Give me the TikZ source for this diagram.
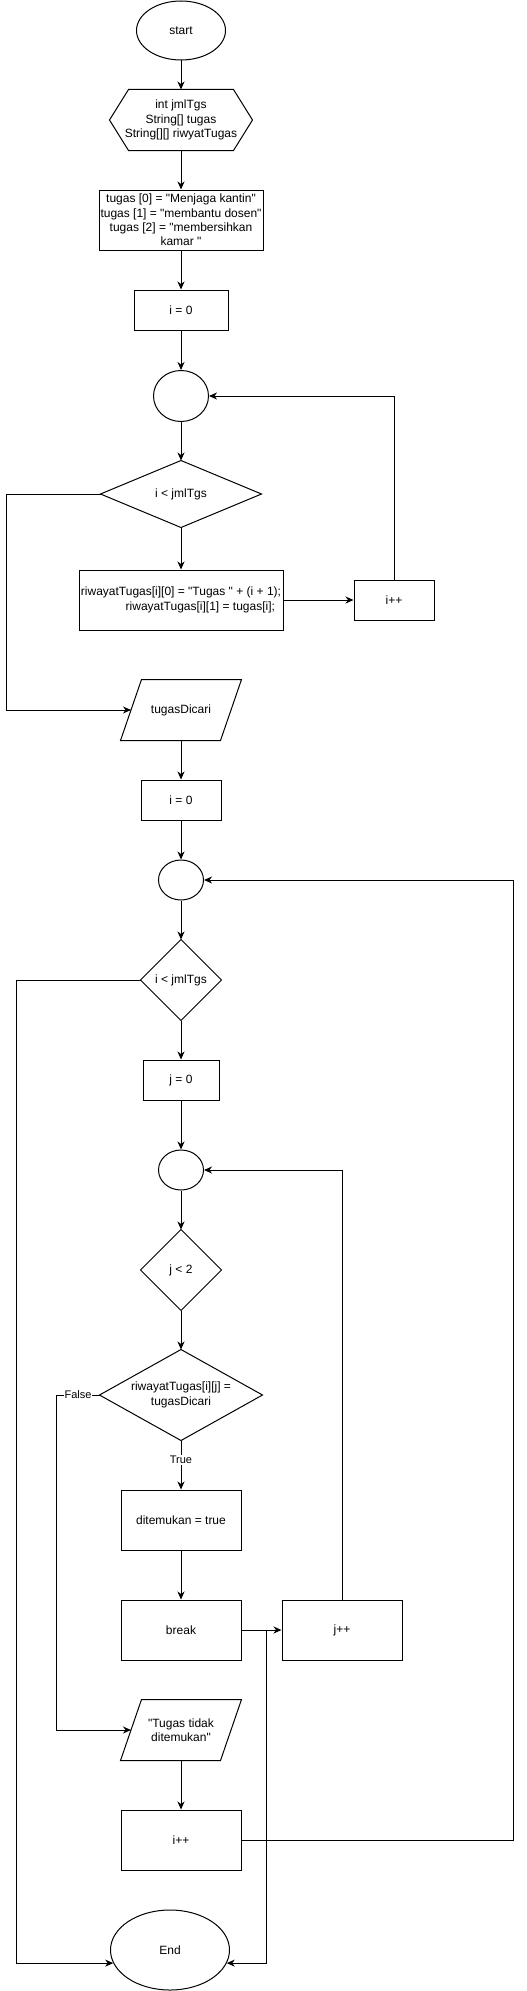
\documentclass[tikz,border=0pt]{standalone}
\usepackage{fontspec}
\setmainfont{Liberation Sans}[Ligatures=TeXOff]
\usetikzlibrary{shapes.geometric,arrows.meta,calc}
\begin{document}
\begin{tikzpicture}[x=1pt,y=-1pt,line width=1pt,
  every node/.style={font=\fontsize{12}{14.4}\selectfont, inner sep=0pt, align=center},
  proc/.style={draw, rectangle},
  term/.style={draw, ellipse},
  plain/.style={rectangle},
  lbl/.style={fill=white, font=\fontsize{11}{13}\selectfont, inner sep=1pt},
  arr/.style={-{Stealth[length=8pt,width=7pt,inset=2.5pt]}}]
\useasboundingbox (0,0) rectangle (527,1991);

% nodes
\node[term, minimum width=89, minimum height=59] (start) at (181,30.5) {start};
\node[plain, minimum width=142, minimum height=60] (hex) at (181,120) {int jmlTgs\\String[] tugas\\String[][] riwyatTugas};
\node[proc, minimum width=164, minimum height=60] (tug) at (181,220) {tugas [0] = "Menjaga kantin"\\tugas [1] = "membantu dosen"\\tugas [2] = "membersihkan\\kamar "};
\node[proc, minimum width=94, minimum height=40] (ia) at (181,310) {i = 0};
\node[term, minimum width=55, minimum height=51] (ca) at (181,396) {};
\node[plain, minimum width=160, minimum height=66] (da) at (181,494) {i < jmlTgs};
\node[proc, minimum width=204, minimum height=60, align=right] (riw) at (181,600) {riwayatTugas[i][0] = "Tugas " + (i + 1);\\riwayatTugas[i][1] = tugas[i];\hspace*{6pt}};
\node[proc, minimum width=80, minimum height=40] (ippa) at (394,600) {i++};
\node[plain, minimum width=120, minimum height=60] (pa) at (181,710) {tugasDicari};
\node[proc, minimum width=80, minimum height=40] (ib) at (181,800) {i = 0};
\node[term, minimum width=45, minimum height=40] (cb) at (181,880) {};
\node[plain, minimum width=80, minimum height=80] (db) at (181,980) {i < jmlTgs};
\node[proc, minimum width=76, minimum height=40] (ja) at (181,1080) {j = 0};
\node[term, minimum width=45, minimum height=40] (cc) at (181,1170) {};
\node[plain, minimum width=80, minimum height=80] (dc) at (181,1270) {j < 2};
\node[plain, minimum width=162, minimum height=90] (dd) at (181,1395) {riwayatTugas[i][j] =\\tugasDicari};
\node[proc, minimum width=120, minimum height=60] (ditem) at (181,1520) {ditemukan = true};
\node[proc, minimum width=120, minimum height=60] (brk) at (181,1630) {break};
\node[proc, minimum width=120, minimum height=60] (jpp) at (342,1630) {j++};
\node[plain, minimum width=120, minimum height=60] (pb) at (181,1730) {"Tugas tidak\\ditemukan"};
\node[proc, minimum width=120, minimum height=60] (ippb) at (181,1840) {i++};
\node[term, minimum width=119, minimum height=80] (end) at (170,1950) {End};

% hexagon
\draw (hex.west) -- ($(hex.north west)+(19,0)$) -- ($(hex.north east)+(-19,0)$) -- (hex.east)
  -- ($(hex.south east)+(-19,0)$) -- ($(hex.south west)+(19,0)$) -- cycle;
% diamonds
\foreach \n in {da,db,dc,dd} \draw (\n.north) -- (\n.east) -- (\n.south) -- (\n.west) -- cycle;
% parallelograms
\foreach \n in {pa,pb} \draw ($(\n.north west)+(21,0)$) -- (\n.north east) -- ($(\n.south east)+(-21,0)$) -- (\n.south west) -- cycle;

% connectors
\draw[arr] (start) -- (hex);
\draw[arr] (hex) -- (tug);
\draw[arr] (tug) -- (ia);
\draw[arr] (ia) -- (ca);
\draw[arr] (ca) -- (da.north);
\draw[arr] (da.south) -- (riw);
\draw[arr] (riw) -- (ippa);
\draw[arr] (ippa.north) |- (ca.east);
\draw[arr] (da.west) -- ++(-94,0) |- ($(pa.west)+(10.5,0)$);
\draw[arr] (pa) -- (ib);
\draw[arr] (ib) -- (cb);
\draw[arr] (cb) -- (db.north);
\draw[arr] (db.south) -- (ja);
\draw[arr] (ja) -- (cc);
\draw[arr] (cc) -- (dc.north);
\draw[arr] (dc.south) -- (dd.north);
\draw[arr] (dd.south) -- node[lbl, pos=0.4] {True} (ditem);
\draw[arr] (ditem) -- (brk);
\draw[arr] (brk) -- (jpp);
\draw[arr] (jpp.north) |- (cc.east);
\draw[arr] (dd.west) -- node[lbl] {False} ++(-43,0) |- ($(pb.west)+(10.5,0)$);
\draw[arr] (pb) -- (ippb);
\draw[arr] (ippb.east) -- ++(272,0) |- (cb.east);
\draw[arr] (db.west) -- ++(-124,0) |- (end.193);
\draw[arr] (brk.east) -- ++(25,0) |- (end.-13);
\end{tikzpicture}
\end{document}
